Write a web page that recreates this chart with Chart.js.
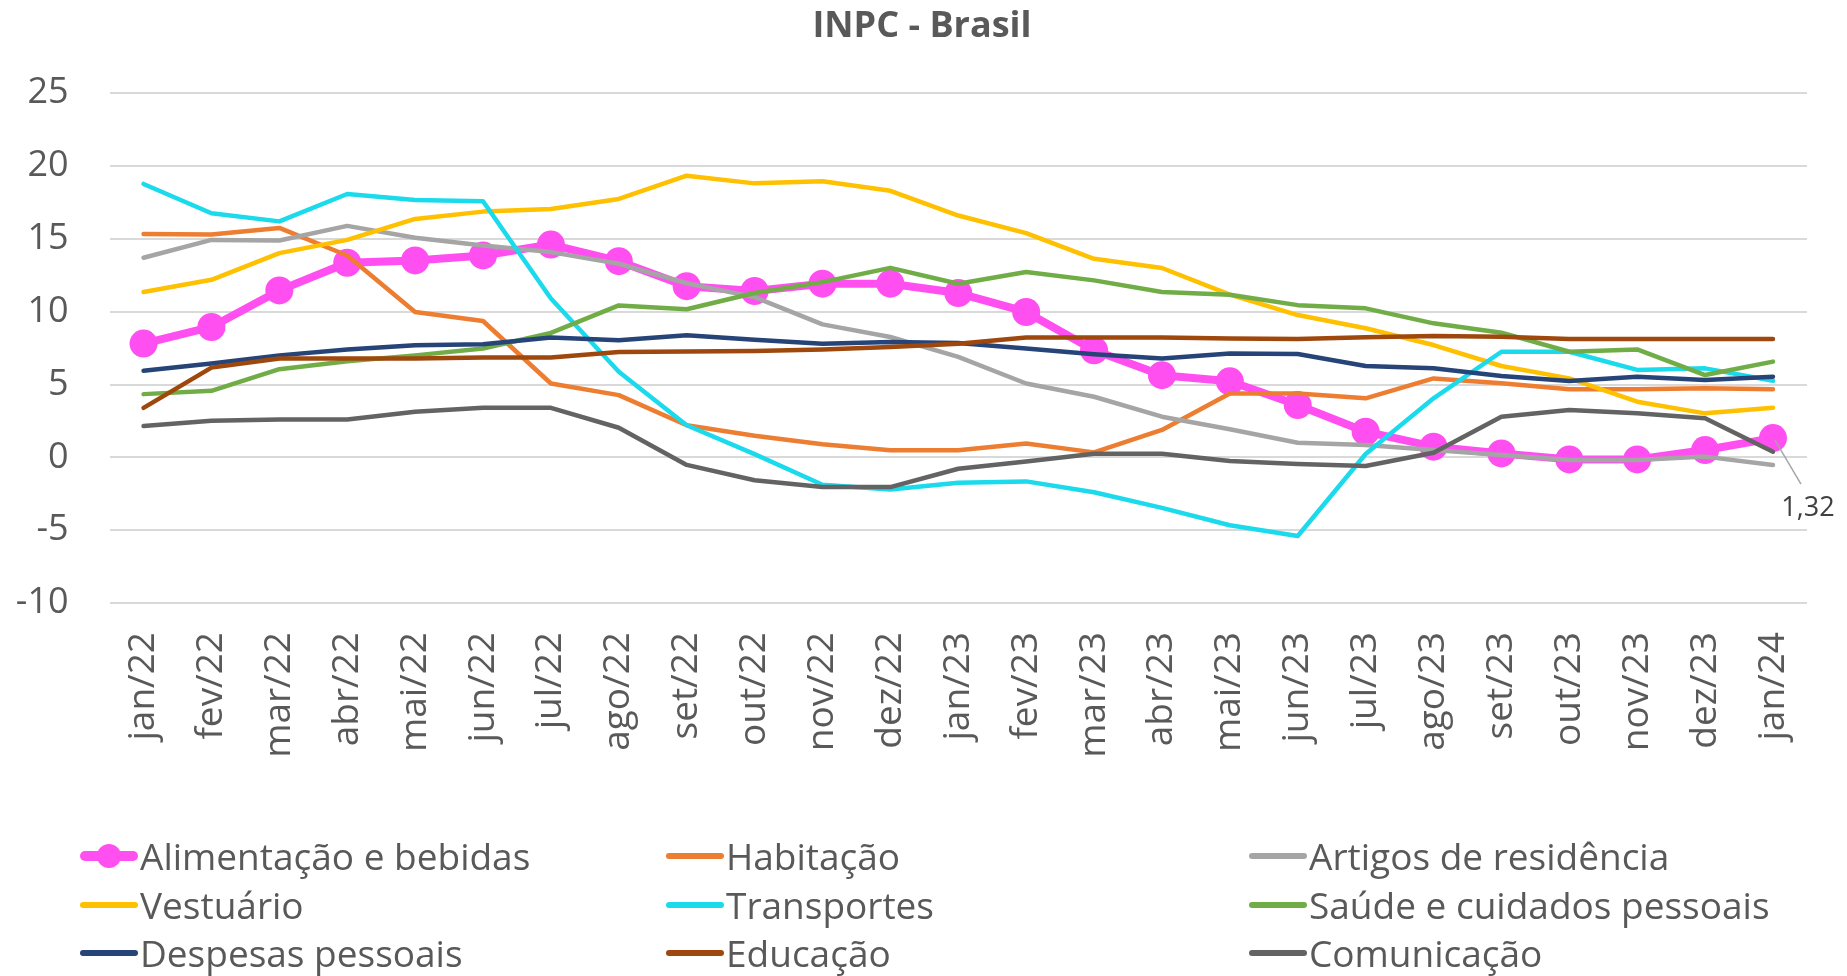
<!doctype html>
<html lang="pt-BR">
<head>
<meta charset="UTF-8" />
<title>INPC - Brasil</title>
<script src="https://cdn.jsdelivr.net/npm/chart.js"></script>
<style>
  html, body { margin: 0; padding: 0; background: #fff; }
  #wrap { position: relative; width: 1847px; height: 976px; }
  #legenda { position: absolute; left: 0; top: 0; width: 1847px; height: 976px; pointer-events: none;
             font-family: "Open Sans", sans-serif; font-size: 37px; color: #595959; }
  .item { position: absolute; height: 48px; line-height: 48px; white-space: nowrap; }
  .traco { position: absolute; left: 0; top: 21px; width: 58px; height: 6px; border-radius: 3px; }
  .bola { position: absolute; left: 17px; top: 12px; width: 24px; height: 24px; border-radius: 50%; }
  .texto { position: absolute; left: 60px; top: 0; }
</style>
</head>
<body>
<div id="wrap">
  <canvas id="inpc" width="1847" height="976"></canvas>
  <div id="legenda"></div>
</div>
<script>
// meses (jan/22 a jan/24)
const meses = ['jan/22', 'fev/22', 'mar/22', 'abr/22', 'mai/22', 'jun/22', 'jul/22', 'ago/22', 'set/22',
  'out/22', 'nov/22', 'dez/22', 'jan/23', 'fev/23', 'mar/23', 'abr/23', 'mai/23', 'jun/23', 'jul/23',
  'ago/23', 'set/23', 'out/23', 'nov/23', 'dez/23', 'jan/24'];

// variação acumulada em 12 meses (%) por grupo
const alimentacao = [7.81, 8.95, 11.46, 13.36, 13.52, 13.86, 14.61, 13.47, 11.75, 11.42, 11.92, 11.92, 11.28,
  9.98, 7.35, 5.64, 5.22, 3.59, 1.76, 0.73, 0.27, -0.14, -0.14, 0.5, 1.32];
const habitacao = [15.34, 15.3, 15.75, 13.86, 9.98, 9.36, 5.07, 4.27, 2.2, 1.48, 0.9, 0.49, 0.49,
  0.95, 0.34, 1.88, 4.39, 4.39, 4.05, 5.42, 5.08, 4.67, 4.67, 4.74, 4.67];
const artigos = [13.7, 14.93, 14.89, 15.89, 15.07, 14.54, 14.09, 13.29, 11.95, 11.0, 9.13, 8.26, 6.9,
  5.07, 4.16, 2.79, 1.93, 1.0, 0.85, 0.5, 0.16, -0.18, -0.18, 0.05, -0.53];
const vestuario = [11.35, 12.19, 14.02, 14.93, 16.37, 16.87, 17.05, 17.74, 19.34, 18.81, 18.95, 18.3, 16.6,
  15.39, 13.63, 13.0, 11.17, 9.77, 8.86, 7.71, 6.27, 5.42, 3.82, 3.02, 3.41];
const transportes = [18.77, 16.76, 16.2, 18.08, 17.67, 17.58, 10.9, 5.87, 2.2, 0.22, -1.88, -2.2, -1.75,
  -1.65, -2.4, -3.47, -4.66, -5.4, 0.23, 4.05, 7.25, 7.25, 6.0, 6.11, 5.26];
const saude = [4.34, 4.57, 6.05, 6.6, 7.0, 7.47, 8.54, 10.43, 10.17, 11.28, 12.03, 13.01, 11.92,
  12.72, 12.15, 11.35, 11.16, 10.45, 10.23, 9.2, 8.56, 7.25, 7.41, 5.65, 6.57];
const despesas = [5.94, 6.44, 7.0, 7.4, 7.69, 7.76, 8.22, 8.04, 8.38, 8.08, 7.8, 7.92, 7.85,
  7.47, 7.08, 6.78, 7.13, 7.09, 6.27, 6.11, 5.58, 5.24, 5.54, 5.31, 5.54];
const educacao = [3.4, 6.16, 6.78, 6.78, 6.78, 6.85, 6.85, 7.24, 7.27, 7.3, 7.4, 7.58, 7.8,
  8.22, 8.22, 8.22, 8.16, 8.12, 8.24, 8.33, 8.28, 8.12, 8.12, 8.12, 8.12];
const comunicacao = [2.15, 2.51, 2.6, 2.6, 3.13, 3.4, 3.4, 2.03, -0.52, -1.57, -2.04, -2.04, -0.78,
  -0.28, 0.24, 0.24, -0.25, -0.46, -0.6, 0.32, 2.79, 3.25, 3.02, 2.68, 0.39];

const grupos = [
  ['Alimentação e bebidas', alimentacao, '#ff4ff0'],
  ['Habitação', habitacao, '#ed7d31'],
  ['Artigos de residência', artigos, '#a5a5a5'],
  ['Vestuário', vestuario, '#ffc000'],
  ['Transportes', transportes, '#1bdaec'],
  ['Saúde e cuidados pessoais', saude, '#70ad47'],
  ['Despesas pessoais', despesas, '#264478'],
  ['Educação', educacao, '#9e480e'],
  ['Comunicação', comunicacao, '#636363']
];

const datasets = grupos.map(([nome, valores, cor], i) => ({
  label: nome,
  data: valores,
  borderColor: cor,
  backgroundColor: cor,
  borderWidth: i === 0 ? 8 : 4.5,
  pointRadius: i === 0 ? 14 : 0,
  pointBorderWidth: 0,
  pointHoverRadius: i === 0 ? 14 : 0,
  borderJoinStyle: 'round',
  borderCapStyle: 'round',
  tension: 0,
  order: grupos.length - i   // Excel desenha a 1a série por baixo
}));

// rótulo do último ponto de Alimentação com linha de chamada
const rotuloFinal = {
  id: 'rotuloFinal',
  afterDatasetsDraw(chart) {
    const meta = chart.getDatasetMeta(0);
    const pt = meta.data[meta.data.length - 1];
    const ctx = chart.ctx;
    ctx.save();
    ctx.strokeStyle = '#a6a6a6';
    ctx.lineWidth = 1.5;
    ctx.beginPath();
    ctx.moveTo(pt.x + 2, pt.y + 2);
    ctx.lineTo(pt.x + 28, pt.y + 46);
    ctx.stroke();
    ctx.font = '27px "Open Sans"';
    ctx.fillStyle = '#404040';
    ctx.textAlign = 'center';
    ctx.textBaseline = 'middle';
    ctx.fillText(alimentacao[alimentacao.length - 1].toFixed(2).replace('.', ','), pt.x + 35, pt.y + 70);
    ctx.restore();
  }
};

const chart = new Chart(document.getElementById('inpc'), {
  type: 'line',
  data: { labels: meses, datasets: datasets },
  options: {
    responsive: false,
    animation: false,
    events: [],
    layout: { padding: { top: 0, left: 0, right: 3, bottom: 193 } },
    plugins: {
      legend: { display: false },
      tooltip: { enabled: false },
      title: {
        display: true,
        text: 'INPC - Brasil',
        color: '#595959',
        font: { family: 'Open Sans', size: 36, weight: 'bold' },
        padding: { top: 5, bottom: 45 }
      }
    },
    scales: {
      x: {
        offset: true,
        grid: { display: false, drawTicks: false },
        border: { display: false },
        afterFit: (s) => { s.height = 180; },
        ticks: {
          color: '#595959',
          font: { family: 'Open Sans', size: 37 },
          minRotation: 90,
          maxRotation: 90,
          padding: 29,
          autoSkip: false
        }
      },
      y: {
        min: -10,
        max: 25,
        afterFit: (s) => { s.width = 109.6; },
        grid: { color: '#d9d9d9', lineWidth: 2, drawTicks: false },
        border: { display: false },
        ticks: {
          stepSize: 5,
          color: '#595959',
          font: { family: 'Open Sans', size: 36 },
          padding: 41
        }
      },
      // margem vazia à direita (onde fica o rótulo 1,32)
      margem: {
        position: 'right',
        afterFit: (s) => { s.width = 28; },
        grid: { display: false, drawTicks: false },
        border: { display: false },
        ticks: { display: false }
      }
    }
  },
  plugins: [rotuloFinal]
});

// legenda em 3 colunas, como no original
const colunas = [80, 666, 1249];
const linhas = [856, 905, 953];
const legenda = document.getElementById('legenda');
chart.data.datasets.forEach((ds, i) => {
  const item = document.createElement('div');
  item.className = 'item';
  item.style.left = colunas[i % 3] + 'px';
  item.style.top = (linhas[Math.floor(i / 3)] - 24) + 'px';
  const traco = document.createElement('div');
  traco.className = 'traco';
  traco.style.background = ds.borderColor;
  if (i === 0) { traco.style.height = '10px'; traco.style.top = '19px'; traco.style.borderRadius = '5px'; }
  item.appendChild(traco);
  if (ds.pointRadius > 0) {
    const bola = document.createElement('div');
    bola.className = 'bola';
    bola.style.background = ds.borderColor;
    item.appendChild(bola);
  }
  const texto = document.createElement('span');
  texto.className = 'texto';
  texto.textContent = ds.label;
  item.appendChild(texto);
  legenda.appendChild(item);
});
</script>
</body>
</html>
